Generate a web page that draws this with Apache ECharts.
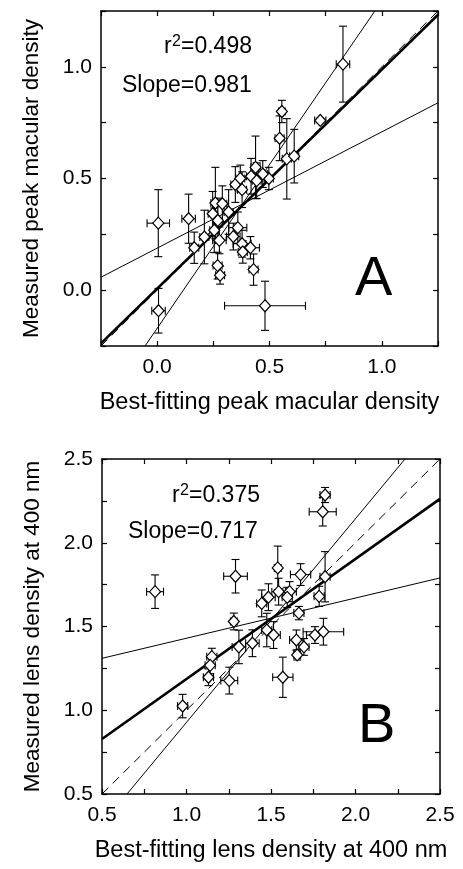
<!DOCTYPE html>
<html>
<head>
<meta charset="utf-8">
<script src="https://cdn.jsdelivr.net/npm/echarts@6/dist/echarts.min.js"></script>
<style>
html,body{margin:0;padding:0;background:#fff;}
#chart{width:463px;height:869px;}
</style>
</head>
<body>
<div id="chart"></div>
<script>
// ---------- Panel A data (peak macular density) ----------
const aX    = [0.827,0.555,0.726,0.545,0.577,0.610,0.438,0.418,0.443,0.497,0.470,0.348,0.378,0.370,0.259,0.247,0.318,0.290,0.140,0.270,0.254,0.359,0.339,0.210,0.277,0.378,0.415,0.165,0.381,0.269,0.280,0.429,0.005,0.006,0.480];
const aY    = [1.012,0.800,0.760,0.680,0.588,0.600,0.550,0.510,0.490,0.500,0.520,0.473,0.450,0.500,0.390,0.342,0.350,0.387,0.320,0.312,0.268,0.280,0.240,0.238,0.223,0.208,0.190,0.190,0.171,0.110,0.067,0.092,0.300,-0.092,-0.070];
const aXErr = [0.030,0.015,0.025,0.020,0.020,0.020,0.020,0.020,0.020,0.020,0.020,0.020,0.020,0.020,0.020,0.020,0.020,0.020,0.030,0.020,0.020,0.040,0.030,0.020,0.030,0.040,0.040,0.020,0.020,0.020,0.020,0.020,0.050,0.030,0.180];
const aYErr = [0.170,0.050,0.010,0.100,0.180,0.120,0.140,0.080,0.080,0.050,0.060,0.080,0.080,0.060,0.160,0.100,0.100,0.080,0.110,0.100,0.100,0.070,0.060,0.120,0.060,0.060,0.050,0.070,0.050,0.060,0.040,0.070,0.150,0.100,0.110];
const aFit      = [[-0.25,-0.238],[1.25,1.233]];
const aShallow  = [[-0.25,0.058],[1.25,0.839]];
const aSteep    = [[-0.054,-0.25],[0.969,1.25]];
const aIdentity = [[-0.25,-0.25],[1.25,1.25]];
const aTicks = {min:-0.25, max:1.25, step:0.25};

// ---------- Panel B data (lens density at 400 nm) ----------
const bX    = [0.814,1.290,1.540,1.675,1.820,1.820,1.806,1.445,1.485,1.545,1.610,1.785,1.665,1.280,1.475,1.515,1.390,1.310,1.650,1.760,1.810,1.695,1.655,1.150,1.140,1.130,1.253,0.977,1.570,1.596];
const bY    = [1.708,1.800,1.850,1.810,1.797,2.285,2.185,1.638,1.675,1.708,1.708,1.680,1.580,1.530,1.479,1.449,1.400,1.378,1.419,1.449,1.469,1.378,1.330,1.320,1.268,1.197,1.177,1.025,1.197,1.674];
const bXErr = [0.050,0.070,0.020,0.060,0.030,0.030,0.080,0.030,0.040,0.040,0.040,0.030,0.030,0.020,0.030,0.040,0.040,0.040,0.040,0.050,0.120,0.030,0.020,0.030,0.030,0.030,0.050,0.030,0.060,0.030];
const bYErr = [0.100,0.100,0.130,0.065,0.150,0.045,0.085,0.080,0.080,0.080,0.060,0.060,0.040,0.050,0.100,0.080,0.080,0.100,0.060,0.050,0.080,0.050,0.030,0.050,0.050,0.050,0.080,0.070,0.120,0.060];
const bFit      = [[0.5,0.828],[2.5,2.262]];
const bShallow  = [[0.5,1.310],[2.5,1.790]];
const bSteep    = [[0.648,0.5],[2.293,2.5]];
const bIdentity = [[0.5,0.5],[2.5,2.5]];
const bTicks = {min:0.5, max:2.5, step:0.25};

const FONT = 'Liberation Sans, Arial, Helvetica, sans-serif';

function zip(xs, ys, xe, ye){ return xs.map((x,i)=>[x, ys[i], xe[i], ye[i]]); }
function lbl(v){ const d = v*2; return Math.abs(d-Math.round(d))<1e-6 ? v.toFixed(1) : ''; }

function xAxisPair(gi, t, name){
  const base = {
    gridIndex: gi, type:'value', min:t.min, max:t.max, interval:t.step,
    axisLine:{show:true, onZero:false, lineStyle:{color:'#000', width:1.5}},
    axisTick:{show:true, inside:true, length:5, lineStyle:{color:'#000', width:1.2}},
    splitLine:{show:false}
  };
  return [
    Object.assign({}, base, {position:'bottom',
      axisLabel:{show:true, formatter:lbl, color:'#000', fontSize:21, fontFamily:FONT, margin:11, showMinLabel:true, showMaxLabel:true},
      name:name, nameLocation:'middle', nameGap:45,
      nameTextStyle:{color:'#000', fontSize:23.5, fontFamily:FONT}}),
    Object.assign({}, base, {position:'top', axisLabel:{show:false}})
  ];
}
function yAxisPair(gi, t, name){
  const base = {
    gridIndex: gi, type:'value', min:t.min, max:t.max, interval:t.step,
    axisLine:{show:true, onZero:false, lineStyle:{color:'#000', width:1.5}},
    axisTick:{show:true, inside:true, length:5, lineStyle:{color:'#000', width:1.2}},
    splitLine:{show:false}
  };
  return [
    Object.assign({}, base, {position:'left',
      axisLabel:{show:true, formatter:lbl, color:'#000', fontSize:21, fontFamily:FONT, margin:9, showMinLabel:true, showMaxLabel:true},
      name:name, nameLocation:'middle', nameGap:58,
      nameTextStyle:{color:'#000', fontSize:22.5, fontFamily:FONT}}),
    Object.assign({}, base, {position:'right', axisLabel:{show:false}})
  ];
}

function errRender(params, api){
  const x = api.value(0), y = api.value(1), xe = api.value(2), ye = api.value(3);
  const t  = api.coord([x, y+ye]);
  const b  = api.coord([x, y-ye]);
  const l  = api.coord([x-xe, y]);
  const r  = api.coord([x+xe, y]);
  const cap = 4;
  const st = {stroke:'#000', lineWidth:1.1, fill:null};
  return {type:'group', children:[
    {type:'line', shape:{x1:t[0],y1:t[1],x2:b[0],y2:b[1]}, style:st},
    {type:'line', shape:{x1:t[0]-cap,y1:t[1],x2:t[0]+cap,y2:t[1]}, style:st},
    {type:'line', shape:{x1:b[0]-cap,y1:b[1],x2:b[0]+cap,y2:b[1]}, style:st},
    {type:'line', shape:{x1:l[0],y1:l[1],x2:r[0],y2:r[1]}, style:st},
    {type:'line', shape:{x1:l[0],y1:l[1]-cap,x2:l[0],y2:l[1]+cap}, style:st},
    {type:'line', shape:{x1:r[0],y1:r[1]-cap,x2:r[0],y2:r[1]+cap}, style:st}
  ]};
}

function lineSeries(xi, yi, data, width, dashed, z){
  return {type:'line', xAxisIndex:xi, yAxisIndex:yi, data:data, showSymbol:false, symbol:'none',
    silent:true, animation:false, z:z, clip:true,
    lineStyle:{color:'#000', width:width, type: dashed ? [9,6] : 'solid'}};
}

function panelSeries(xi, yi, pts, fit, shallow, steep, ident){
  return [
    lineSeries(xi, yi, ident, 1, true, 1),
    lineSeries(xi, yi, shallow, 1, false, 2),
    lineSeries(xi, yi, steep, 1, false, 2),
    lineSeries(xi, yi, fit, 2.6, false, 3),
    {type:'custom', xAxisIndex:xi, yAxisIndex:yi, data:pts, renderItem:errRender, z:4, animation:false, silent:true},
    {type:'scatter', xAxisIndex:xi, yAxisIndex:yi, data:pts.map(p=>[p[0],p[1]]), symbol:'diamond', symbolSize:[11,12],
      itemStyle:{color:'#fff', opacity:1, borderColor:'#000', borderWidth:1.2}, z:5, animation:false, silent:true}
  ];
}

function rsq(left, midY, val){
  const ts = {fontSize:23, fontFamily:FONT, fill:'#000', verticalAlign:'middle', align:'left'};
  return {type:'group', left:left, top:midY-14, children:[
    {type:'text', x:0, y:14, style:Object.assign({}, ts, {text:'r'})},
    {type:'text', x:8, y:9, style:Object.assign({}, ts, {text:'2', fontSize:16})},
    {type:'text', x:17, y:14, style:Object.assign({}, ts, {text:'=' + val})}
  ]};
}

const chart = echarts.init(document.getElementById('chart'), null, {renderer:'canvas'});
chart.setOption({
  backgroundColor:'#fff',
  animation:false,
  grid:[
    {left:101, top:11, width:337, height:335},
    {left:102, top:459, width:338, height:335}
  ],
  xAxis:[].concat(xAxisPair(0, aTicks, 'Best-fitting peak macular density'),
                  xAxisPair(1, bTicks, 'Best-fitting lens density at 400 nm')),
  yAxis:[].concat(yAxisPair(0, aTicks, 'Measured peak macular density'),
                  yAxisPair(1, bTicks, 'Measured lens density at 400 nm')),
  series:[].concat(
    panelSeries(0, 0, zip(aX,aY,aXErr,aYErr), aFit, aShallow, aSteep, aIdentity),
    panelSeries(2, 2, zip(bX,bY,bXErr,bYErr), bFit, bShallow, bSteep, bIdentity)
  ),
  graphic:[
    rsq(164, 48, '0.498'),
    {type:'text', left:122, top:74, style:{text:'Slope=0.981', fontSize:23, fontFamily:FONT, fill:'#000'}},
    {type:'text', left:355, top:252, style:{text:'A', fontSize:56, fontFamily:FONT, fill:'#000'}},
    rsq(172, 497, '0.375'),
    {type:'text', left:128, top:520, style:{text:'Slope=0.717', fontSize:23, fontFamily:FONT, fill:'#000'}},
    {type:'text', left:358, top:699, style:{text:'B', fontSize:56, fontFamily:FONT, fill:'#000'}}
  ]
});
</script>
</body>
</html>
